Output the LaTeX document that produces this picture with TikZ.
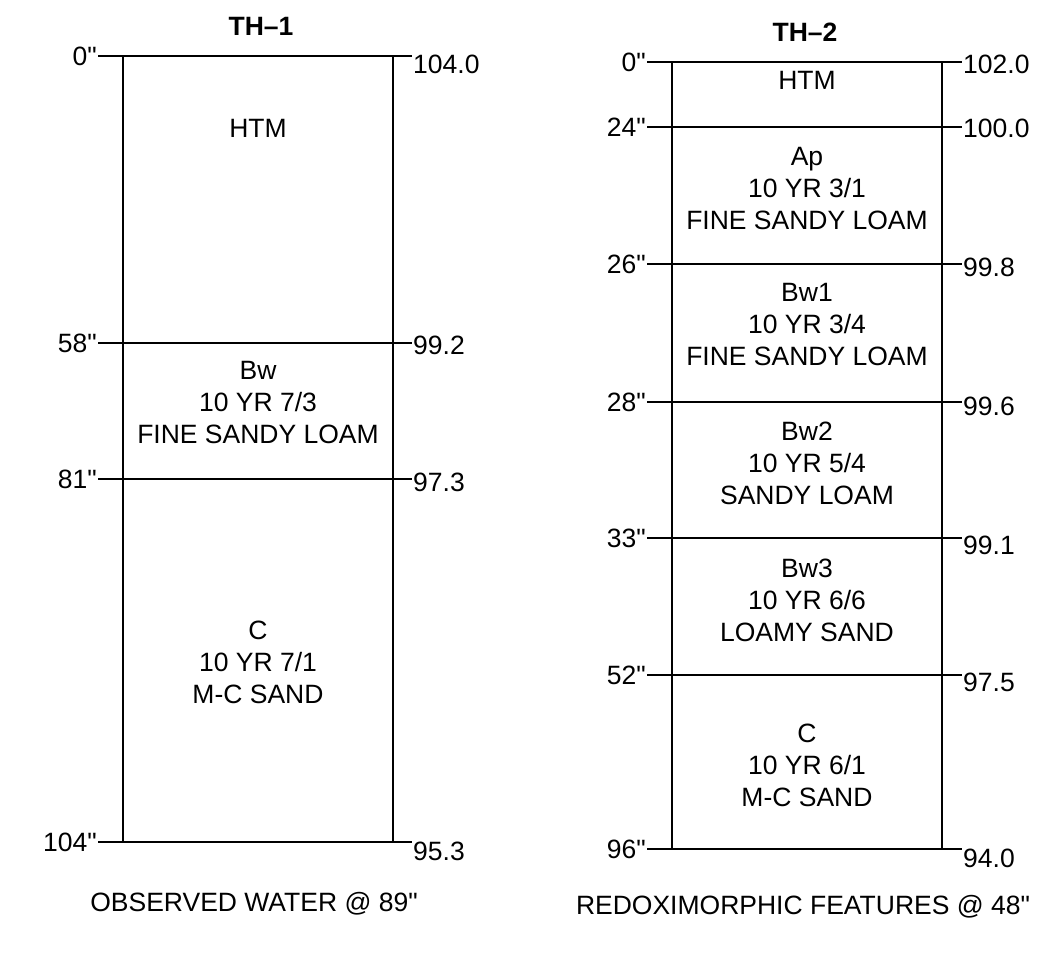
\documentclass[tikz,border=0pt]{standalone}
\usepackage{fontspec}
\setmainfont{Liberation Sans}
\usepackage{tikz}
\usetikzlibrary{positioning}
\newcommand{\logfont}{\fontsize{26.5}{32}\selectfont}
\newcommand{\inch}{\textquotedbl}
\tikzset{
    depth/.style={anchor=east, inner sep=1pt, font=\logfont},
    elev/.style={anchor=west, inner sep=1pt, font=\logfont},
    layer/.style={align=center, font=\logfont},
    title/.style={font=\logfont\bfseries},
    horizon/.style={draw, line width=1.1pt}
}

\begin{document}
\begin{tikzpicture}[x=1pt, y=-1pt]
    \useasboundingbox (0,0) rectangle (1039,953);

    % Test Hole 1
    \node[title] (th1) at (261,26) {TH--1};
    \node[depth] (da0) at (98,56) {0\inch};
    \node[depth] (da1) at (98,343) {58\inch};
    \node[depth] (da2) at (98,479) {81\inch};
    \node[depth] (da3) at (98,842) {104\inch};
    \node[elev] (ea0) at (412,64) {104.0};
    \node[elev] (ea1) at (412,345) {99.2};
    \node[elev] (ea2) at (412,482) {97.3};
    \node[elev] (ea3) at (412,851) {95.3};

    \draw[horizon] (123,56) -- (123,842);
    \draw[horizon] (393,56) -- (393,842);
    \foreach \i in {0,...,3}
        \draw[horizon] (da\i.east) -- (da\i.east -| ea\i.west);

    \node[layer] (htma) at (258,128) {HTM};
    \node[layer] (bwa) at (258,403) {Bw\\10 YR 7/3\\FINE SANDY LOAM};
    \node[layer] (ca) at (258,662) {C\\10 YR 7/1\\M-C SAND};
    \node[layer] (notea) at (254,904) {OBSERVED WATER @ 89\inch};

    % Test Hole 2
    \node[title] (th2) at (805,32) {TH--2};
    \node[depth] (db0) at (647,62) {0\inch};
    \node[depth] (db1) at (647,127) {24\inch};
    \node[depth] (db2) at (647,264) {26\inch};
    \node[depth] (db3) at (647,402) {28\inch};
    \node[depth] (db4) at (647,538) {33\inch};
    \node[depth] (db5) at (647,675) {52\inch};
    \node[depth] (db6) at (647,849) {96\inch};
    \node[elev] (eb0) at (962,64) {102.0};
    \node[elev] (eb1) at (962,128) {100.0};
    \node[elev] (eb2) at (962,267) {99.8};
    \node[elev] (eb3) at (962,406) {99.6};
    \node[elev] (eb4) at (962,545) {99.1};
    \node[elev] (eb5) at (962,682) {97.5};
    \node[elev] (eb6) at (962,858) {94.0};

    \draw[horizon] (672,62) -- (672,849);
    \draw[horizon] (942,62) -- (942,849);
    \foreach \i in {0,...,6}
        \draw[horizon] (db\i.east) -- (db\i.east -| eb\i.west);

    \node[layer] (htmb) at (807,80) {HTM};
    \node[layer] (apb) at (807,189) {Ap\\10 YR 3/1\\FINE SANDY LOAM};
    \node[layer] (bw1b) at (807,325) {Bw1\\10 YR 3/4\\FINE SANDY LOAM};
    \node[layer] (bw2b) at (807,463) {Bw2\\10 YR 5/4\\SANDY LOAM};
    \node[layer] (bw3b) at (807,600) {Bw3\\10 YR 6/6\\LOAMY SAND};
    \node[layer] (cb) at (807,765) {C\\10 YR 6/1\\M-C SAND};
    \node[layer] (noteb) at (803,907) {REDOXIMORPHIC FEATURES @ 48\inch};

\end{tikzpicture}
\end{document}
